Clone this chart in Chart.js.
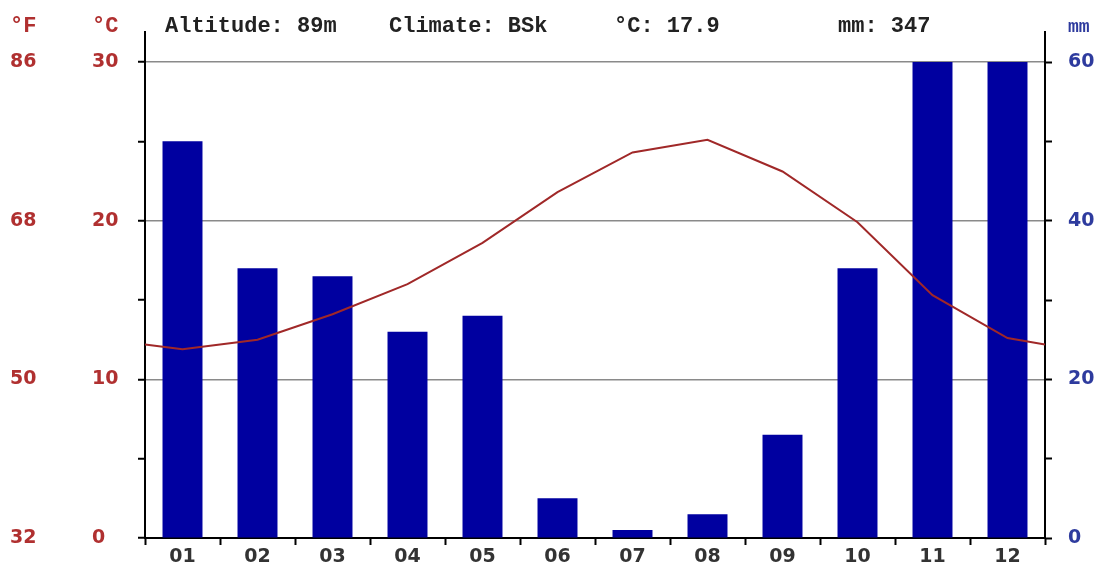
<!DOCTYPE html>
<html>
<head>
<meta charset="utf-8">
<script src="https://cdn.jsdelivr.net/npm/chart.js@4"></script>
<style>
  html, body { margin: 0; padding: 0; background: #fff; }
  #wrap { width: 1102px; height: 568px; position: relative; }
</style>
</head>
<body>
<div id="wrap"><canvas id="climate"></canvas></div>
<script>
// values
const months = ["01", "02", "03", "04", "05", "06", "07", "08", "09", "10", "11", "12"];
const precip = [50, 34, 33, 26, 28, 5, 1, 3, 13, 34, 60, 60];
const temps = [11.9, 12.5, 14.1, 16.0, 18.6, 21.8, 24.3, 25.1, 23.1, 19.9, 15.3, 12.6];
const tempEdge = 12.2; // where the line meets the left/right axis

const celsiusTicks = [0, 5, 10, 15, 20, 25, 30];
const fahrenheitTicks = [32, 50, 68, 86];
const mmTicks = [0, 10, 20, 30, 40, 50, 60];

const header = [
    { text: "Altitude: 89m", x: 165 },
    { text: "Climate: BSk", x: 389 },
    { text: "°C: 17.9", x: 614 },
    { text: "mm: 347", x: 838 }
];

// axes run 30px above the 30°C / 60mm line
const topPx = 30, plotPx = 476;
const cMax = 30 * (1 + topPx / plotPx);
const mmMax = 2 * cMax;
const fMax = 32 + 1.8 * cMax;

const red = '#b03030';
const blue = '#2e3b9e';
const labelFont = { family: 'DejaVu Sans', size: 19, weight: 'bold' };

// line points sit in the middle of each month, plus the two ends
const linePts = [{ x: 0, y: tempEdge }]
    .concat(temps.map((t, i) => ({ x: i + 0.5, y: t })))
    .concat([{ x: 12, y: tempEdge }]);

function setTicks(values) {
    return function (scale) {
        scale.ticks = values.map(v => ({ value: v }));
    };
}

const textPlugin = {
    id: 'texts',
    afterDraw(chart) {
        const ctx = chart.ctx;
        ctx.save();
        ctx.textBaseline = 'alphabetic';
        ctx.textAlign = 'left';
        ctx.font = 'bold 22px "Liberation Mono", monospace';
        ctx.fillStyle = '#222';
        header.forEach(h => ctx.fillText(h.text, h.x, 32));

        ctx.fillStyle = red;
        ctx.fillText("°F", 10, 32);
        ctx.fillText("°C", 92, 32);
        ctx.fillStyle = blue;
        ctx.font = 'bold 18px "Liberation Mono", monospace';
        ctx.fillText("mm", 1068, 32);
        ctx.restore();
    }
};

new Chart(document.getElementById("climate"), {
    type: 'bar',
    data: {
        labels: months,
        datasets: [
            {
                type: 'line',
                data: linePts,
                xAxisID: 'xl',
                yAxisID: 'y',
                borderColor: '#a02828',
                borderWidth: 2,
                pointRadius: 0,
                tension: 0,
                order: 0
            },
            {
                data: precip,
                xAxisID: 'x',
                yAxisID: 'mm',
                backgroundColor: '#0000a0',
                grouped: false,
                barPercentage: 0.533,
                categoryPercentage: 1,
                order: 1
            }
        ]
    },
    options: {
        responsive: true,
        maintainAspectRatio: false,
        animation: false,
        layout: { padding: { top: 32, left: 10, right: 0, bottom: 0 } },
        plugins: {
            legend: { display: false },
            tooltip: { enabled: false }
        },
        scales: {
            x: {
                position: 'bottom',
                afterFit(s) { s.height = 30; },
                border: { color: '#000', width: 2 },
                grid: { offset: true, drawOnChartArea: false, tickColor: '#000', tickLength: 7, tickWidth: 2 },
                ticks: { color: '#333', font: labelFont, padding: 1 }
            },
            xl: {
                type: 'linear',
                display: false,
                offset: false,
                min: 0,
                max: 12
            },
            y: {
                position: 'left',
                weight: 0,
                min: 0,
                max: cMax,
                afterBuildTicks: setTicks(celsiusTicks),
                afterFit(s) { s.width = 53; },
                border: { color: '#000', width: 2 },
                grid: {
                    color: c => (c.tick && c.tick.value > 0 && c.tick.value % 10 === 0) ? '#8a8a8a' : 'rgba(0,0,0,0)',
                    lineWidth: 1.5,
                    tickColor: '#000',
                    tickLength: 7,
                    tickWidth: 2
                },
                ticks: {
                    autoSkip: false,
                    crossAlign: 'far',
                    color: red,
                    font: labelFont,
                    callback: v => (v % 10 === 0 ? String(v) : '')
                }
            },
            f: {
                position: 'left',
                weight: 1,
                min: 32,
                max: fMax,
                afterBuildTicks: setTicks(fahrenheitTicks),
                afterFit(s) { s.width = 82; },
                border: { display: false },
                grid: { display: false },
                ticks: { autoSkip: false, crossAlign: 'far', color: red, font: labelFont }
            },
            mm: {
                position: 'right',
                min: 0,
                max: mmMax,
                afterBuildTicks: setTicks(mmTicks),
                afterFit(s) { s.width = 57; },
                border: { color: '#000', width: 2 },
                grid: { drawOnChartArea: false, tickColor: '#000', tickLength: 7, tickWidth: 2 },
                ticks: {
                    autoSkip: false,
                    padding: 16,
                    color: blue,
                    font: labelFont,
                    callback: v => (v % 20 === 0 ? String(v) : '')
                }
            }
        }
    },
    plugins: [textPlugin]
});
</script>
</body>
</html>
